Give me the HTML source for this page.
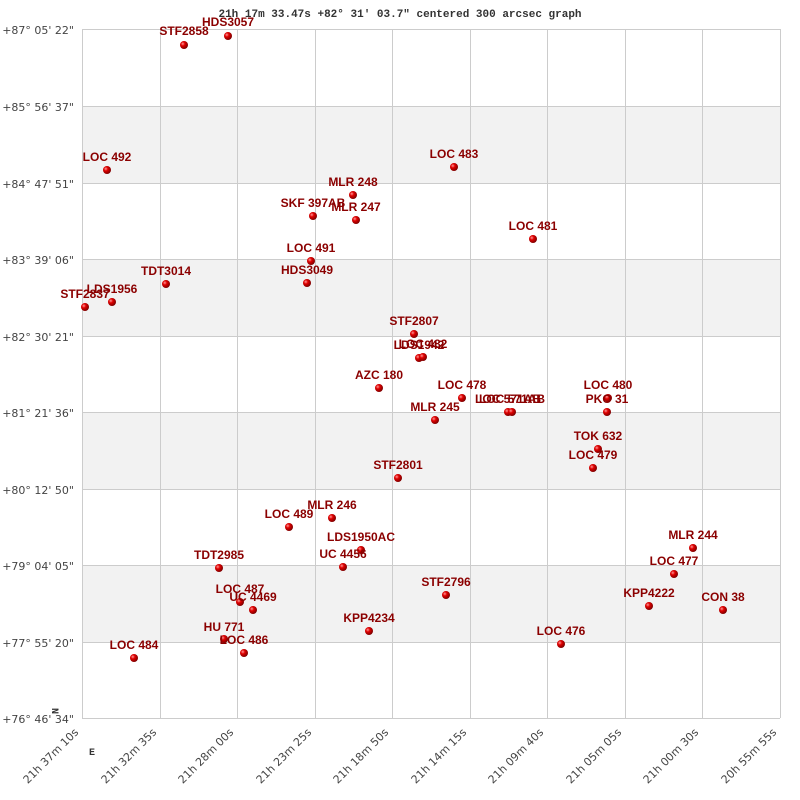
<!DOCTYPE html>
<html><head><meta charset="utf-8"><style>
html,body{margin:0;padding:0;background:#fff}
svg{display:block}
.l{font:bold 12px "Liberation Sans",sans-serif;fill:#8b0000;text-anchor:middle}
.a{font:11px "DejaVu Sans",sans-serif;fill:#444}
</style></head><body>
<svg width="800" height="800" viewBox="0 0 800 800">
<defs><radialGradient id="g" cx="35%" cy="35%" r="65%"><stop offset="0" stop-color="#ff9a9a"/><stop offset="0.4" stop-color="#e00000"/><stop offset="1" stop-color="#800000"/></radialGradient></defs>
<g fill="#f2f2f2">
<rect x="82" y="106" width="698" height="77"/><rect x="82" y="259" width="698" height="77"/><rect x="82" y="412" width="698" height="77"/><rect x="82" y="565" width="698" height="77"/>
</g>
<g stroke="#ccc" stroke-width="1">
<line x1="82.5" y1="29" x2="82.5" y2="718"/><line x1="160.5" y1="29" x2="160.5" y2="718"/><line x1="237.5" y1="29" x2="237.5" y2="718"/><line x1="315.5" y1="29" x2="315.5" y2="718"/><line x1="392.5" y1="29" x2="392.5" y2="718"/><line x1="470.5" y1="29" x2="470.5" y2="718"/><line x1="547.5" y1="29" x2="547.5" y2="718"/><line x1="625.5" y1="29" x2="625.5" y2="718"/><line x1="702.5" y1="29" x2="702.5" y2="718"/><line x1="780.5" y1="29" x2="780.5" y2="718"/>
<line x1="82" y1="29.5" x2="780" y2="29.5"/><line x1="82" y1="106.5" x2="780" y2="106.5"/><line x1="82" y1="183.5" x2="780" y2="183.5"/><line x1="82" y1="259.5" x2="780" y2="259.5"/><line x1="82" y1="336.5" x2="780" y2="336.5"/><line x1="82" y1="412.5" x2="780" y2="412.5"/><line x1="82" y1="489.5" x2="780" y2="489.5"/><line x1="82" y1="565.5" x2="780" y2="565.5"/><line x1="82" y1="642.5" x2="780" y2="642.5"/><line x1="82" y1="718.5" x2="780" y2="718.5"/>
</g>
<g class="a" text-anchor="end">
<text x="74" y="34">+87° 05' 22"</text><text x="74" y="111">+85° 56' 37"</text><text x="74" y="188">+84° 47' 51"</text><text x="74" y="264">+83° 39' 06"</text><text x="74" y="341">+82° 30' 21"</text><text x="74" y="417">+81° 21' 36"</text><text x="74" y="494">+80° 12' 50"</text><text x="74" y="570">+79° 04' 05"</text><text x="74" y="647">+77° 55' 20"</text><text x="74" y="723">+76° 46' 34"</text>
</g>
<g class="a" text-anchor="end">
<text transform="translate(79,733) rotate(-45)">21h 37m 10s</text>
<text transform="translate(157,733) rotate(-45)">21h 32m 35s</text>
<text transform="translate(234,733) rotate(-45)">21h 28m 00s</text>
<text transform="translate(312,733) rotate(-45)">21h 23m 25s</text>
<text transform="translate(389,733) rotate(-45)">21h 18m 50s</text>
<text transform="translate(467,733) rotate(-45)">21h 14m 15s</text>
<text transform="translate(544,733) rotate(-45)">21h 09m 40s</text>
<text transform="translate(622,733) rotate(-45)">21h 05m 05s</text>
<text transform="translate(699,733) rotate(-45)">21h 00m 30s</text>
<text transform="translate(777,733) rotate(-45)">20h 55m 55s</text>
</g>
<text x="400" y="17" text-anchor="middle" style="font:bold 11px 'Liberation Mono',monospace;fill:#333">21h 17m 33.47s +82° 31′ 03.7" centered 300 arcsec graph</text>
<text transform="translate(52,708) rotate(90)" style="font:bold 10px 'Liberation Mono',monospace;fill:#333">N</text>
<text x="92" y="755" text-anchor="middle" style="font:bold 10px 'Liberation Mono',monospace;fill:#333">E</text>
<g fill="url(#g)">
<circle cx="184" cy="45" r="4"/><circle cx="228" cy="36" r="4"/><circle cx="107" cy="170" r="4"/><circle cx="454" cy="167" r="4"/><circle cx="353" cy="195" r="4"/><circle cx="313" cy="216" r="4"/><circle cx="356" cy="220" r="4"/><circle cx="533" cy="239" r="4"/><circle cx="311" cy="261" r="4"/><circle cx="307" cy="283" r="4"/><circle cx="166" cy="284" r="4"/><circle cx="112" cy="302" r="4"/><circle cx="85" cy="307" r="4"/><circle cx="414" cy="334" r="4"/><circle cx="419" cy="358" r="4"/><circle cx="423" cy="357" r="4"/><circle cx="379" cy="388" r="4"/><circle cx="462" cy="398" r="4"/><circle cx="508" cy="412" r="4"/><circle cx="512" cy="412" r="4"/><circle cx="608" cy="398" r="4"/><circle cx="607" cy="412" r="4"/><circle cx="435" cy="420" r="4"/><circle cx="598" cy="449" r="4"/><circle cx="593" cy="468" r="4"/><circle cx="398" cy="478" r="4"/><circle cx="332" cy="518" r="4"/><circle cx="289" cy="527" r="4"/><circle cx="361" cy="550" r="4"/><circle cx="343" cy="567" r="4"/><circle cx="219" cy="568" r="4"/><circle cx="240" cy="602" r="4"/><circle cx="253" cy="610" r="4"/><circle cx="446" cy="595" r="4"/><circle cx="693" cy="548" r="4"/><circle cx="674" cy="574" r="4"/><circle cx="649" cy="606" r="4"/><circle cx="723" cy="610" r="4"/><circle cx="369" cy="631" r="4"/><circle cx="224" cy="639" r="4"/><circle cx="244" cy="653" r="4"/><circle cx="561" cy="644" r="4"/><circle cx="134" cy="658" r="4"/>
</g>
<g class="l">
<text x="184" y="35">STF2858</text><text x="228" y="26">HDS3057</text><text x="107" y="161">LOC 492</text><text x="454" y="158">LOC 483</text><text x="353" y="186">MLR 248</text><text x="313" y="207">SKF 397AB</text><text x="356" y="211">MLR 247</text><text x="533" y="230">LOC 481</text><text x="311" y="252">LOC 491</text><text x="307" y="274">HDS3049</text><text x="166" y="275">TDT3014</text><text x="112" y="293">LDS1956</text><text x="85" y="298">STF2837</text><text x="414" y="325">STF2807</text><text x="419" y="349">LDS1942</text><text x="423" y="348">LOC 482</text><text x="379" y="379">AZC 180</text><text x="462" y="389">LOC 478</text><text x="508" y="403">LOC 571AB</text><text x="512" y="403">LOC 571AB</text><text x="608" y="389">LOC 480</text><text x="607" y="403">PKO  31</text><text x="435" y="411">MLR 245</text><text x="598" y="440">TOK 632</text><text x="593" y="459">LOC 479</text><text x="398" y="469">STF2801</text><text x="332" y="509">MLR 246</text><text x="289" y="518">LOC 489</text><text x="361" y="541">LDS1950AC</text><text x="343" y="558">UC 4456</text><text x="219" y="559">TDT2985</text><text x="240" y="593">LOC 487</text><text x="253" y="601">UC 4469</text><text x="446" y="586">STF2796</text><text x="693" y="539">MLR 244</text><text x="674" y="565">LOC 477</text><text x="649" y="597">KPP4222</text><text x="723" y="601">CON  38</text><text x="369" y="622">KPP4234</text><text x="224" y="631">HU  771</text><text x="244" y="644">LOC 486</text><text x="561" y="635">LOC 476</text><text x="134" y="649">LOC 484</text>
</g>
</svg>
</body></html>
